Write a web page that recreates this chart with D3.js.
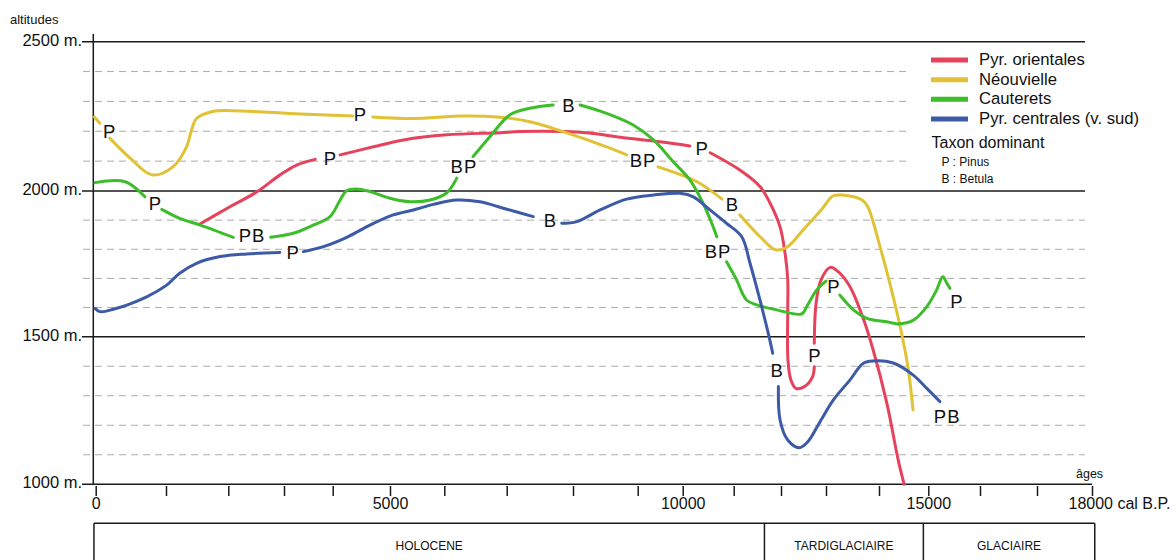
<!DOCTYPE html>
<html lang="fr">
<head>
<meta charset="UTF-8">
<title>Altitudes de la limite forestière</title>
<script src="https://d3js.org/d3.v7.min.js"></script>
<style>
  body { margin: 0; background: #fff; }
  svg { display: block; font-family: "Liberation Sans", Arial, sans-serif; }
</style>
</head>
<body>
<script>
// ---- données (âge cal B.P., altitude m) ----
// chaque courbe = liste de segments, interrompus là où est posé le taxon dominant
var orientales = [
  [[1530,1885],[2030,1946],[2520,1998],[2930,2054],[3260,2087],[3640,2106]],
  [[4130,2121],[4710,2148],[5250,2171],[6040,2188],[6890,2195],[7200,2199],[8210,2195],[8730,2180],[9500,2165],[10140,2151]],
  [[10540,2128],[11130,2070],[11560,2014],[11770,1958],[11980,1877],[12090,1786],[12150,1695],[12150,1592],[12155,1421],[12220,1353],[12330,1325],[12520,1331],[12700,1364],[12740,1398]],
  [[12740,1478],[12780,1615],[12890,1695],[13080,1738],[13230,1723],[13450,1672],[13690,1569],[13890,1455],[14160,1274],[14390,1082],[14510,1000]]
];
var neouvielle = [
  [[-20,2248],[60,2227]],
  [[200,2177],[490,2110],[800,2054],[1110,2081],[1330,2148],[1410,2204],[1490,2243],[1750,2266],[2080,2269],[3330,2258],[4350,2251]],
  [[4700,2248],[5420,2243],[6300,2251],[6890,2247],[7350,2232],[7850,2199],[8520,2148],[8830,2121]],
  [[9450,2081],[10280,2031],[10770,1972]],
  [[11130,1918],[11560,1843],[11890,1798],[12130,1807],[12490,1866],[12930,1942],[13130,1983],[13300,1986],[13680,1969],[13790,1945],[14020,1809],[14220,1683],[14430,1534],[14590,1394],[14690,1252]]
];
var cauterets = [
  [[-10,2028],[420,2031],[700,1980]],
  [[940,1937],[1220,1906],[1550,1883],[2090,1841]],
  [[2760,1841],[3190,1855],[3600,1883],[3945,1912],[4130,1969],[4240,2001],[4420,2007],[4650,1998],[5000,1975],[5370,1963],[5740,1969],[6040,1994],[6200,2043]],
  [[6460,2115],[6730,2182],[7050,2255],[7350,2277],[7700,2288]],
  [[8110,2288],[8520,2260],[8930,2221],[9350,2171],[9790,2098],[10140,2037],[10400,1958],[10570,1889],[10670,1843]],
  [[10860,1757],[11060,1695],[11270,1626],[11490,1609],[11910,1592],[12460,1578],[12570,1603],[12790,1660],[13000,1691]],
  [[13260,1643],[13520,1592],[13770,1563],[14160,1551],[14390,1544],[14700,1557],[14970,1603],[15160,1660],[15280,1706],[15360,1683],[15420,1666]]
];
var centrales = [
  [[-10,1597],[60,1586],[250,1594],[725,1637],[1010,1677],[1220,1718],[1490,1752],[1870,1775],[2330,1784],[2925,1789]],
  [[3400,1792],[3810,1809],[4245,1841],[4650,1883],[5060,1918],[5430,1935],[5800,1954],[6200,1969],[6570,1963],[6945,1941],[7400,1912]],
  [[7830,1889],[8060,1895],[8420,1935],[8830,1972],[9350,1986],[9940,1992],[10210,1980],[10535,1935],[10860,1889],[11170,1843],[11345,1752],[11555,1626],[11730,1512],[11825,1444]],
  [[11945,1331],[11980,1218],[12150,1150],[12405,1124],[12595,1144],[12890,1218],[13140,1286],[13450,1353],[13705,1410],[13895,1418],[14290,1411],[14695,1370],[14970,1325],[15225,1280]]
];

// taxon dominant : [lettres, âge, altitude]
var orientalesTaxa = [["P",3945,2109],["P",10373,2143],["P",12740,1438]];
var neouvielleTaxa = [["P",190,2200],["P",4476,2258],["BP",9118,2104],["B",10967,1955]];
var cauteretsTaxa = [["P",844,1958],["PB",2425,1849],["BP",6314,2081],["B",7930,2288],["BP",10692,1792],["P",13138,1672],["P",15545,1620]];
var centralesTaxa = [["P",3179,1789],["B",7653,1900],["B",11909,1385],["PB",15365,1231]];

var seriesNames = ["Pyr. orientales", "Néouvielle", "Cauterets", "Pyr. centrales (v. sud)"];
var seriesColors = ["#e6425c", "#e0c234", "#3dbd2a", "#3c5aa5"];

var yearTicks = d3.range(0, 18001, 1000);
var altLabels = [1000, 1500, 2000, 2500];
var altGrid = d3.range(1100, 2500, 100);
var periods = ["HOLOCENE", "TARDIGLACIAIRE", "GLACIAIRE"];
var periodBounds = [-25, 11650, 14900, 18050];
var taxaLegend = ["P : Pinus", "B : Betula"];

// ---- mise en page ----
var width = 1176, height = 560;
var svg = d3.select('body').append('svg').attr('width', width).attr('height', height);

// l'axe des âges du document est tracé à la main : graduations irrégulières
var x = d3.scaleLinear()
  .domain(yearTicks)
  .range([95.7,166,228.3,284,332.7,390,444.3,506.7,573,637.7,682.7,733.7,781,826,879,928.3,980,1037,1092]);
var y = d3.scaleLinear()
  .domain(altLabels)
  .range([484.3,336.7,191,41.7]);

var gridLeft = 83, gridRight = 1085;

// lignes en tirets tous les 100 m
svg.append('g').selectAll('line')
  .data(altGrid.filter(function(d){ return d % 500 !== 0; }))
  .enter().append('line')
  .attr('x1', gridLeft).attr('x2', gridRight)
  .attr('y1', function(d){ return y(d); }).attr('y2', function(d){ return y(d); })
  .attr('stroke', '#ababab').attr('stroke-width', 1)
  .attr('stroke-dasharray', '7,5');

// fond blanc de la légende
svg.append('rect').attr('x', 907).attr('y', 43).attr('width', 180).attr('height', 146).attr('fill', '#fff');

// lignes pleines tous les 500 m
svg.append('g').selectAll('line')
  .data(altLabels)
  .enter().append('line')
  .attr('x1', gridLeft - 1)
  .attr('x2', function(d){ return d === 1000 ? x(18000) : gridRight; })
  .attr('y1', function(d){ return y(d); }).attr('y2', function(d){ return y(d); })
  .attr('stroke', '#1a1a1a').attr('stroke-width', 1.5);

// axe vertical
svg.append('line')
  .attr('x1', 93.3).attr('x2', 93.3)
  .attr('y1', 34).attr('y2', y(1000))
  .attr('stroke', '#1a1a1a').attr('stroke-width', 1.5);

svg.append('g').selectAll('text')
  .data(altLabels)
  .enter().append('text')
  .attr('x', 82).attr('y', function(d){ return y(d) + 4; })
  .attr('text-anchor', 'end').attr('font-size', '16.5px').attr('fill', '#111')
  .text(function(d){ return d + ' m.'; });

svg.append('text').attr('x', 10).attr('y', 24)
  .attr('font-size', '13px').attr('fill', '#111').text('altitudes');

// axe des âges
var xAxis = d3.axisBottom(x)
  .tickValues(yearTicks)
  .tickSize(10)
  .tickPadding(1.5)
  .tickFormat(function(d){
    if (d === 18000) return '18000 cal B.P.';
    return d % 5000 === 0 ? d : '';
  });
var gx = svg.append('g').attr('transform', 'translate(0,486)').call(xAxis);
gx.select('.domain').remove();
gx.attr('font-size', null).attr('font-family', null);
gx.selectAll('.tick line').attr('stroke', '#1a1a1a').attr('stroke-width', 1.5);
gx.selectAll('.tick text').attr('font-size', '16px').attr('fill', '#111');
gx.selectAll('.tick text').filter(function(d){ return d === 18000; })
  .attr('text-anchor', 'start').attr('x', -24);

svg.append('text').attr('x', 1076).attr('y', 478)
  .attr('font-size', '12.5px').attr('fill', '#111').text('âges');

// périodes
var boxTop = 523.3;
svg.append('line')
  .attr('x1', x(periodBounds[0])).attr('x2', x(periodBounds[3]))
  .attr('y1', boxTop).attr('y2', boxTop)
  .attr('stroke', '#1a1a1a').attr('stroke-width', 1.5);
svg.append('g').selectAll('line')
  .data(periodBounds)
  .enter().append('line')
  .attr('x1', function(d){ return x(d); }).attr('x2', function(d){ return x(d); })
  .attr('y1', boxTop).attr('y2', height + 2)
  .attr('stroke', '#1a1a1a').attr('stroke-width', 1.5);
svg.append('g').selectAll('text')
  .data(periods)
  .enter().append('text')
  .attr('x', function(d, i){ return (x(periodBounds[i]) + x(periodBounds[i + 1])) / 2; })
  .attr('y', 550)
  .attr('text-anchor', 'middle').attr('font-size', '12px').attr('fill', '#111')
  .text(function(d){ return d; });

// courbes
var line = d3.line()
  .x(function(d){ return x(d[0]); })
  .y(function(d){ return y(d[1]); })
  .curve(d3.curveCatmullRom.alpha(0.5));

var allSeries = [orientales, neouvielle, cauterets, centrales];
var allTaxa = [orientalesTaxa, neouvielleTaxa, cauteretsTaxa, centralesTaxa];

allSeries.forEach(function(segs, i){
  svg.append('g').selectAll('path')
    .data(segs)
    .enter().append('path')
    .attr('d', line)
    .attr('fill', 'none')
    .attr('stroke', seriesColors[i])
    .attr('stroke-width', 3)
    .attr('stroke-linecap', 'round')
    .attr('stroke-linejoin', 'round');
});

allTaxa.forEach(function(taxa){
  svg.append('g').selectAll('text')
    .data(taxa)
    .enter().append('text')
    .attr('x', function(d){ return x(d[1]); })
    .attr('y', function(d){ return y(d[2]); })
    .attr('dy', '0.36em')
    .attr('text-anchor', 'middle')
    .attr('font-size', '18.5px')
    .attr('letter-spacing', function(d){ return d[0].length > 1 ? '1px' : null; })
    .attr('fill', '#111')
    .text(function(d){ return d[0]; });
});

// légende
var legend = svg.append('g');
var legendY = [60, 79.7, 99.3, 119];
legend.selectAll('line')
  .data(seriesNames)
  .enter().append('line')
  .attr('x1', 931).attr('x2', 968)
  .attr('y1', function(d, i){ return legendY[i]; })
  .attr('y2', function(d, i){ return legendY[i]; })
  .attr('stroke', function(d, i){ return seriesColors[i]; })
  .attr('stroke-width', 5);
legend.selectAll('text.name')
  .data(seriesNames)
  .enter().append('text').attr('class', 'name')
  .attr('x', 979)
  .attr('y', function(d, i){ return legendY[i] + 5; })
  .attr('font-size', '16.7px').attr('fill', '#111')
  .text(function(d){ return d; });
legend.append('text').attr('x', 931.5).attr('y', 147.7)
  .attr('font-size', '16px').attr('fill', '#111').text('Taxon dominant');
legend.selectAll('text.taxon')
  .data(taxaLegend)
  .enter().append('text').attr('class', 'taxon')
  .attr('x', 941.5)
  .attr('y', function(d, i){ return 166 + i * 16.7; })
  .attr('font-size', '12px').attr('fill', '#111')
  .text(function(d){ return d; });
</script>
</body>
</html>
